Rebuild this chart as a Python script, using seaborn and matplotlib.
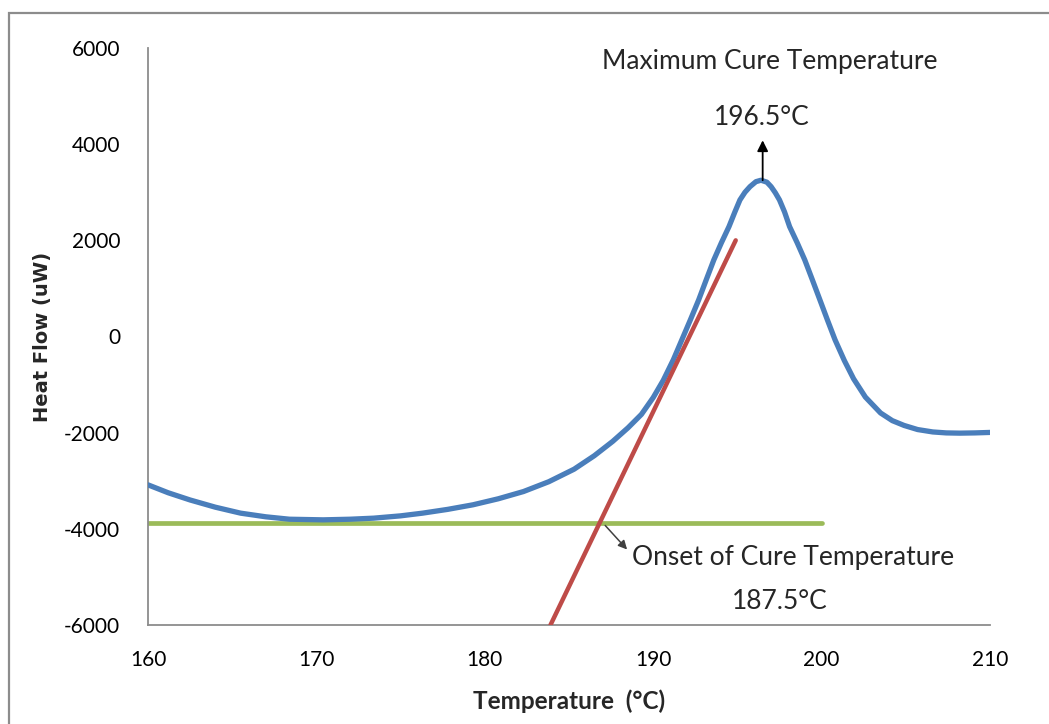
import matplotlib
matplotlib.use("Agg")
import matplotlib.pyplot as plt
import seaborn as sns
import pandas as pd
from matplotlib.patches import Rectangle

# ---- data ----
temp = [160, 161.2, 162.5, 164.0, 165.5, 167.0, 168.4, 170.4, 172.0, 173.4,
        175.0, 176.3, 177.8, 179.3, 180.8, 182.3, 183.8, 185.3, 186.5, 187.6,
        188.5, 189.3, 190.0, 190.6, 191.2, 191.7, 192.2, 192.7, 193.15, 193.6,
        194.05, 194.5, 194.85, 195.15, 195.45, 195.75, 196.1, 196.4, 196.75, 197.0,
        197.25, 197.5, 197.8, 198.1, 198.55, 199.0, 199.45, 199.9, 200.35, 200.8,
        201.35, 201.9, 202.6, 203.5, 204.2, 204.9, 205.7, 206.6, 207.4, 208.2,
        209.1, 210]
heat_flow = [-3085, -3250, -3400, -3550, -3674, -3750, -3800, -3813, -3800, -3778,
             -3730, -3674, -3595, -3500, -3375, -3224, -3020, -2760, -2480, -2180,
             -1900, -1620, -1270, -910, -480, -70, 340, 761, 1180, 1593,
             1950, 2285, 2590, 2840, 3000, 3117, 3220, 3250, 3210, 3117,
             2990, 2840, 2590, 2285, 1950, 1593, 1180, 761, 340, -70,
             -500, -880, -1260, -1590, -1750, -1850, -1935, -1985, -2005, -2010,
             -2005, -1995]

baseline_x = [160, 200]
baseline_y = [-3880, -3880]

tangent_x = [183.9, 194.9]
tangent_y = [-6000, 2000]

x_ticks = [160, 170, 180, 190, 200, 210]
y_ticks = [-6000, -4000, -2000, 0, 2000, 4000, 6000]

max_label = "Maximum Cure Temperature"
max_value = "196.5°C"
onset_label = "Onset of Cure Temperature"
onset_value = "187.5°C"

sns.set_theme(style="white")
plt.rcParams['font.family'] = ['Lato', 'DejaVu Sans']

fig = plt.figure(figsize=(10.49, 7.24), dpi=100)
ax = fig.add_axes([148/1049, 1-625/724, (990-148)/1049, (625-48)/724])

df_curve = pd.DataFrame({"T": temp, "H": heat_flow})
df_base = pd.DataFrame({"T": baseline_x, "H": baseline_y})
df_tan = pd.DataFrame({"T": tangent_x, "H": tangent_y})

sns.lineplot(data=df_curve, x="T", y="H", ax=ax, color="#4A7EBB", lw=3.8,
             sort=False, solid_capstyle="round", solid_joinstyle="round", zorder=3)
sns.lineplot(data=df_base, x="T", y="H", ax=ax, color="#9BBB59", lw=3.4,
             sort=False, solid_capstyle="round", zorder=2)
sns.lineplot(data=df_tan, x="T", y="H", ax=ax, color="#BE4B48", lw=3.2,
             sort=False, solid_capstyle="round", zorder=4)

ax.set_xlim(160, 210)
ax.set_ylim(-6000, 6000)
ax.set_xticks(x_ticks)
ax.set_yticks(y_ticks)
ax.set_xticklabels([str(t) for t in x_ticks])
ax.set_yticklabels([str(t) for t in y_ticks])
ax.tick_params(axis='both', length=0, labelsize=15, colors='black')
ax.tick_params(axis='x', pad=18)
ax.tick_params(axis='y', pad=20)

for s in ["top", "right"]:
    ax.spines[s].set_visible(False)
for s in ["left", "bottom"]:
    ax.spines[s].set_color("#8C8C8C")
    ax.spines[s].set_linewidth(1.3)

ax.set_xlabel("Temperature  (°C)", fontsize=17.5, fontweight='bold', labelpad=14)
ax.set_ylabel("Heat Flow (uW)", fontsize=14, fontweight='bold', labelpad=9,
              family=['DejaVu Sans'])

# annotations
ax.annotate("", xy=(196.5, 4080), xytext=(196.5, 3250),
            arrowprops=dict(arrowstyle='-|>', color='black', lw=1.3,
                            mutation_scale=16, shrinkA=0, shrinkB=0), zorder=5)
ax.text(196.94, 5709, max_label, ha='center', va='center', fontsize=19)
ax.text(196.46, 4550, max_value, ha='center', va='center', fontsize=19)

ax.annotate("", xy=(188.45, -4430), xytext=(187.15, -3930),
            arrowprops=dict(arrowstyle='-|>', color='#404040', lw=1.1,
                            mutation_scale=13, shrinkA=0, shrinkB=0), zorder=5)
ax.text(188.74, -4603, onset_label, ha='left', va='center', fontsize=19)
ax.text(197.53, -5518, onset_value, ha='center', va='center', fontsize=19)

# figure border
fig.patches.append(Rectangle((9/1049, -0.1), 2.0, 1.1 - 13/724, transform=fig.transFigure,
                             fill=False, edgecolor='#8C8C8C', lw=1.6))

fig.savefig("out.png", dpi=100)
